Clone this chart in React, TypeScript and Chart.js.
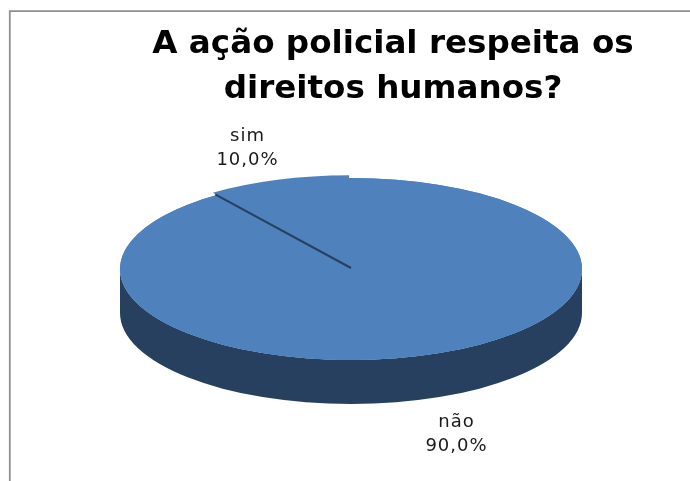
import React, { useEffect, useRef } from "react";
import { Chart, registerables } from "chart.js";

Chart.register(...registerables);

const titleLines = ["A ação policial respeita os", "direitos humanos?"];
const categories = ["não", "sim"];
const values = [90, 10];
const sliceOffsets = [0, 20];

const TOP_COLOR = "#4f81bd";
const SIDE_COLOR = "#274060";
const FRAME_COLOR = "#8f8f8f";

const PIE_CENTER_X = 351;
const PIE_CENTER_Y = 269;
const PIE_RADIUS = 231;
const SQUASH = 91 / 231;
const DEPTH = 44;
const LABEL_SHIFT_X = [2, 0];

const framePlugin = {
  id: "frame",
  beforeDraw(chart: any) {
    const { ctx, width, height } = chart;
    ctx.save();
    ctx.strokeStyle = FRAME_COLOR;
    ctx.lineWidth = 1.8;
    ctx.beginPath();
    ctx.moveTo(9.8, height);
    ctx.lineTo(9.8, 11.2);
    ctx.lineTo(width, 11.2);
    ctx.stroke();
    ctx.restore();
  },
};

const pie3dPlugin = {
  id: "pie3d",
  beforeDatasetDraw(chart: any, args: any) {
    const { ctx } = chart;
    const arc = chart.getDatasetMeta(args.index).data[0];
    const rx = arc.outerRadius;
    const ry = rx * SQUASH;
    ctx.save();
    ctx.fillStyle = SIDE_COLOR;
    ctx.beginPath();
    ctx.ellipse(PIE_CENTER_X, PIE_CENTER_Y + DEPTH, rx, ry, 0, 0, Math.PI);
    ctx.lineTo(PIE_CENTER_X - rx, PIE_CENTER_Y);
    ctx.ellipse(PIE_CENTER_X, PIE_CENTER_Y, rx, ry, 0, Math.PI, 0, true);
    ctx.closePath();
    ctx.fill();
    // base of the top face, so the raised wedge leaves no white seam
    ctx.fillStyle = TOP_COLOR;
    ctx.beginPath();
    ctx.ellipse(PIE_CENTER_X, PIE_CENTER_Y, rx, ry, 0, 0, Math.PI * 2);
    ctx.fill();
    ctx.restore();

    ctx.save();
    ctx.translate(PIE_CENTER_X, PIE_CENTER_Y);
    ctx.scale(1, SQUASH);
    ctx.translate(-arc.x, -arc.y);
  },
  afterDatasetDraw(chart: any, args: any) {
    const { ctx } = chart;
    const arcs = chart.getDatasetMeta(args.index).data;
    ctx.restore();

    // dark edge of the raised wedge, along its lower radial side
    const sim = arcs[1];
    const ex = Math.cos(sim.startAngle) * sim.outerRadius;
    const ey = Math.sin(sim.startAngle) * sim.outerRadius * SQUASH;
    ctx.save();
    ctx.strokeStyle = SIDE_COLOR;
    ctx.lineWidth = 2;
    ctx.beginPath();
    ctx.moveTo(PIE_CENTER_X, PIE_CENTER_Y - 1);
    ctx.lineTo(PIE_CENTER_X + ex, PIE_CENTER_Y + ey - 1);
    ctx.stroke();
    ctx.restore();

    // data labels
    const total = values.reduce((a, b) => a + b, 0);
    ctx.save();
    ctx.fillStyle = "#1a1a1a";
    ctx.font = "18px 'DejaVu Sans'";
    (ctx as any).letterSpacing = "1px";
    ctx.textAlign = "center";
    ctx.textBaseline = "middle";
    arcs.forEach((a: any, i: number) => {
      const mid = (a.startAngle + a.endAngle) / 2;
      const lx = PIE_CENTER_X + Math.cos(mid) * a.outerRadius * 1.45 + LABEL_SHIFT_X[i];
      const dy = Math.sin(mid) * a.outerRadius * SQUASH * 1.39;
      const ly = PIE_CENTER_Y + dy + (dy > 0 ? DEPTH + 1 : 0);
      const pct = ((values[i] / total) * 100).toFixed(1).replace(".", ",") + "%";
      ctx.fillText(categories[i], lx, ly - 12);
      ctx.fillText(pct, lx, ly + 12);
    });
    ctx.restore();
  },
};

export default function App() {
  const ref = useRef<HTMLCanvasElement>(null);
  useEffect(() => {
    const chart = new Chart(ref.current!, {
      type: "pie",
      data: {
        labels: categories,
        datasets: [
          {
            data: values,
            backgroundColor: TOP_COLOR,
            borderWidth: 0,
            offset: sliceOffsets,
            radius: PIE_RADIUS,
            clip: false,
          } as any,
        ],
      },
      options: {
        responsive: false,
        animation: false,
        layout: { padding: { left: 96, right: 0, top: 0, bottom: 0 } },
        plugins: {
          legend: { display: false },
          tooltip: { enabled: false },
          title: {
            display: true,
            text: titleLines,
            color: "#000000",
            font: { family: "'DejaVu Sans'", size: 32.6, weight: "bold", lineHeight: 1.38 },
            padding: { top: 22, bottom: 0 },
          },
        },
      },
      plugins: [framePlugin, pie3dPlugin],
    });
    return () => chart.destroy();
  }, []);
  return (
    <div style={{ position: "absolute", left: 0, top: 0, width: 690, height: 481, background: "#ffffff" }}>
      <canvas ref={ref} width={690} height={481} style={{ display: "block" }} />
    </div>
  );
}
